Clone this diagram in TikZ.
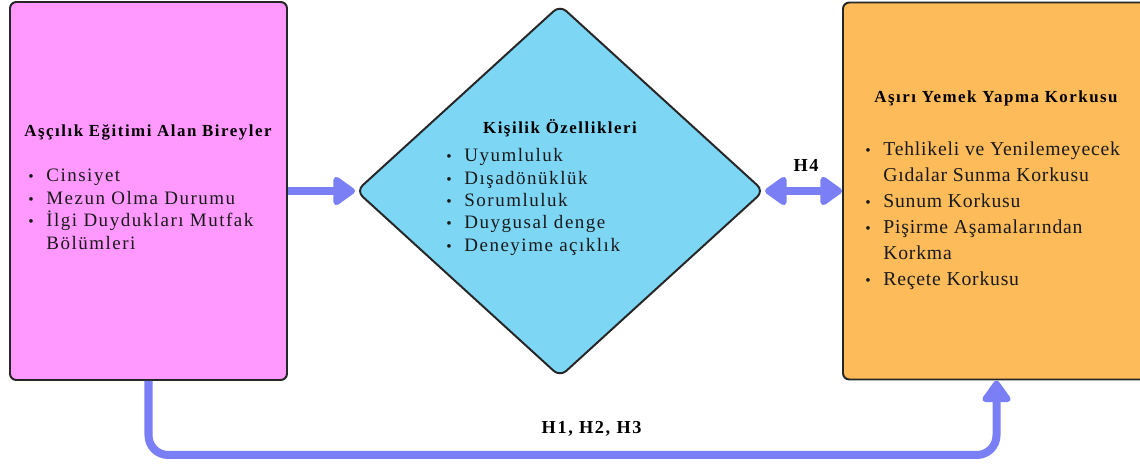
\documentclass[tikz,border=0pt]{standalone}
\usepackage{fontspec}
\setmainfont{Liberation Serif}
\newfontfamily\titlefont[LetterSpace=9]{Liberation Serif}
\newfontfamily\listfont[LetterSpace=8]{Liberation Serif}
\newfontfamily\fearfont[LetterSpace=4]{Liberation Serif}
\usetikzlibrary{shapes.geometric,arrows.meta}
\definecolor{pinkfill}{RGB}{255,153,255}
\definecolor{bluefill}{RGB}{126,214,245}
\definecolor{orangefill}{RGB}{253,187,90}
\definecolor{arrowblue}{RGB}{122,127,245}
\newcommand{\bul}{{\fontsize{11}{11}\selectfont\textbullet}}

\begin{document}
\begin{tikzpicture}[
  box/.style={draw=black!85,line width=1.4pt,rounded corners=4.5pt,inner sep=0pt},
  boxtitle/.style={font=\titlefont\bfseries\fontsize{12}{14}\selectfont},
  hlabel/.style={font=\titlefont\bfseries\fontsize{13}{15}\selectfont},
  itemlist/.style={anchor=west,inner sep=0pt,text=black!90,font=\listfont\fontsize{13.5}{16}\selectfont},
  flow/.style={draw=arrowblue,line width=5.7pt},
  bighead/.tip={Triangle[length=17pt,width=23pt,round]}
]
\useasboundingbox (0,0) rectangle (28.5,11.6);

\node[box,fill=pinkfill,minimum width=6.925cm,minimum height=9.45cm] (pink) at (3.7125,6.825) {};
\node[diamond,draw=black!85,line width=1.4pt,rounded corners=6pt,fill=bluefill,minimum width=10.2cm,minimum height=9.3cm,inner sep=0pt] (pers) at (14,6.825) {};
\node[box,fill=orangefill,minimum width=7.675cm,minimum height=9.425cm] (fear) at (24.9125,6.825) {};

\node[boxtitle] (pinktitle) at (3.7,8.3) {Aşçılık Eğitimi Alan Bireyler};
\node[itemlist] (pinklist) at (0.7,6.325) {\begin{tabular}{@{}l@{\hspace{9pt}}l@{}}
\bul & Cinsiyet\\
\bul & Mezun Olma Durumu\\
\bul & İlgi Duydukları Mutfak\\
 & Bölümleri
\end{tabular}};

\node[boxtitle] (perstitle) at (14,8.4) {Kişilik Özellikleri};
\node[itemlist] (perslist) at (11.15,6.55) {\begin{tabular}{@{}l@{\hspace{9pt}}l@{}}
\bul & Uyumluluk\\
\bul & Dışadönüklük\\
\bul & Sorumluluk\\
\bul & Duygusal denge\\
\bul & Deneyime açıklık
\end{tabular}};

\node[boxtitle] (feartitle) at (24.9,9.15) {Aşırı Yemek Yapma Korkusu};
\node[itemlist,font=\fearfont\fontsize{14}{18.5}\selectfont] (fearlist) at (21.625,6.225) {\begin{tabular}{@{}l@{\hspace{9pt}}l@{}}
\bul & Tehlikeli ve Yenilemeyecek\\
 & Gıdalar Sunma Korkusu\\
\bul & Sunum Korkusu\\
\bul & Pişirme Aşamalarından\\
 & Korkma\\
\bul & Reçete Korkusu
\end{tabular}};

\draw[flow,-bighead] (pink.east) -- (pers.west);
\draw[flow,bighead-bighead] (pers.east) -- (fear.west);
\draw[flow,-bighead,rounded corners=14pt] (pink.south) -- ++(0,-1.85) -| (fear.south);

\node[hlabel] (hfour) at (20.15,7.475) {H4};
\node[hlabel] (hall) at (14.79,0.875) {H1, H2, H3};
\end{tikzpicture}
\end{document}
